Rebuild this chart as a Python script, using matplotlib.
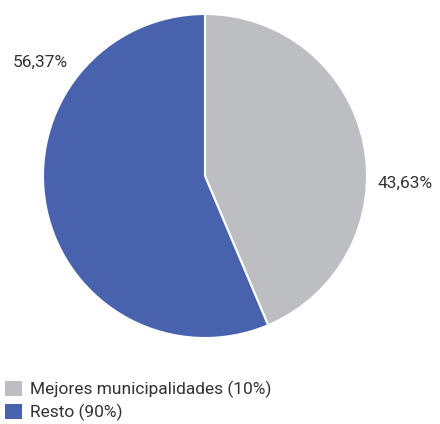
import matplotlib.pyplot as plt
from matplotlib.patches import Patch

labels = ['Mejores municipalidades (10%)', 'Resto (90%)']
values = [43.63, 56.37]
colors = ['#BDBEC2', '#4862AE']
pct_text = ['43,63%', '56,37%']

plt.rcParams['font.family'] = ['Roboto', 'DejaVu Sans']

fig = plt.figure(figsize=(4.4, 4.24), dpi=100)
ax = fig.add_axes([43 / 440, 86 / 424, 324 / 440, 324 / 424])
ax.pie(values, colors=colors, startangle=90, counterclock=False,
       wedgeprops={'edgecolor': 'white', 'linewidth': 1.5})
ax.set_xlim(-1, 1)
ax.set_ylim(-1, 1)
ax.set_aspect('equal')

ax.text(1.235, -0.045, pct_text[0], ha='center', va='center', fontsize=12.5, color='#333333')
ax.text(-1.02, 0.70, pct_text[1], ha='center', va='center', fontsize=12.5, color='#333333')

handles = [Patch(facecolor=c, edgecolor='none') for c in colors]
fig.legend(handles, labels, loc='lower left', bbox_to_anchor=(-0.025, -0.03),
           frameon=False, fontsize=12.5, handlelength=1.0, handleheight=1.0,
           handletextpad=0.45, labelspacing=0.3, labelcolor='#333333')

fig.savefig('out.png', dpi=100)
